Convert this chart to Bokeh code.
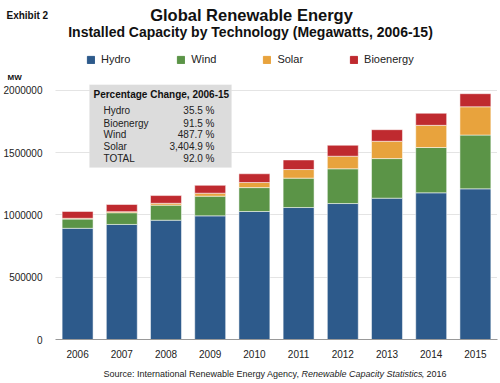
from bokeh.plotting import figure
from bokeh.layouts import column
from bokeh.models import (FactorRange, Range1d, FixedTicker, NumeralTickFormatter,
                          Label, BoxAnnotation, Legend, LegendItem)
from bokeh.embed import file_html
from bokeh.resources import INLINE

years = ["2006", "2007", "2008", "2009", "2010", "2011", "2012", "2013", "2014", "2015"]
hydro = [893000, 924000, 958000, 993000, 1028000, 1060000, 1092000, 1135000, 1178000, 1210000]
wind = [74000, 94000, 121000, 158000, 192000, 236000, 279000, 318000, 364000, 432000]
solar = [6500, 9000, 15000, 24000, 41000, 69000, 101000, 139000, 178000, 227000]
bio = [55000, 57000, 62000, 63000, 70000, 77000, 88000, 93000, 97000, 105000]
series_names = ["Hydro", "Wind", "Solar", "Bioenergy"]
colors = ["#2d5a8b", "#5b9447", "#e8a33d", "#bf2a2f"]
y_ticks = [0, 500000, 1000000, 1500000, 2000000]

pct_labels = ["Hydro", "Bioenergy", "Wind", "Solar", "TOTAL"]
pct_values = ["35.5 %", "91.5 %", "487.7 %", "3,404.9 %", "92.0 %"]

FONT = "Liberation Sans"
W = 500
HEAD_H = 84
FOOT_H = 22
FRAME_H = 255
LEFT, RIGHT, BOTTOM = 53, 3, 22
MAIN_H = FRAME_H + BOTTOM

data = dict(years=years, Hydro=hydro, Wind=wind, Solar=solar, Bioenergy=bio)


def label(fig, text, x, y, size, style="normal", align="left", color="#111111"):
    fig.add_layout(Label(x=x, y=y, x_units="screen", y_units="screen", text=text,
                         text_font=FONT, text_font_size=size, text_font_style=style,
                         text_align=align, text_baseline="middle", text_color=color))


def blank(height, x_range=None, y_range=None):
    f = figure(width=W, height=height, output_backend="svg", toolbar_location=None,
               x_range=x_range if x_range is not None else Range1d(0, W),
               y_range=y_range if y_range is not None else Range1d(0, height),
               x_axis_location=None, y_axis_location=None, frame_align=False,
               min_border_left=0, min_border_right=0, min_border_top=0, min_border_bottom=0)
    f.outline_line_color = None
    f.xgrid.grid_line_color = None
    f.ygrid.grid_line_color = None
    return f


# ---------- header: titles + legend (screen px from bottom-left) ----------
head = blank(HEAD_H, x_range=FactorRange(*years, range_padding=0), y_range=Range1d(-4e6, -3e6))
label(head, "Exhibit 2", 6, HEAD_H - 15, "10px", style="bold")
label(head, "Global Renewable Energy", 251, HEAD_H - 14, "16.5px", style="bold", align="center")
label(head, "Installed Capacity by Technology (Megawatts, 2006-15)", 250, HEAD_H - 31, "14px",
      style="bold", align="center")
label(head, "MW", 7, HEAD_H - 77, "8px", style="bold")
# same stacked bars, not drawn here: they only feed the legend's swatches
hidden = head.vbar_stack(series_names, x="years", width=0.7, source=data, color=colors)
for r in hidden:
    r.visible = False
legend = Legend(items=[LegendItem(label=n, renderers=[r]) for n, r in zip(series_names, hidden)],
                orientation="horizontal", location=(86, 19), click_policy="none",
                spacing=46, glyph_width=9, glyph_height=9, label_standoff=6,
                label_height=12, padding=0, margin=0, border_line_color=None,
                background_fill_alpha=0, label_text_font=FONT, label_text_font_size="11px",
                label_text_color="#222222")
head.add_layout(legend, "center")

# ---------- main chart ----------
p = figure(width=W, height=MAIN_H, output_backend="svg", toolbar_location=None,
           x_range=FactorRange(*years, range_padding=0),
           y_range=Range1d(0, 2048000), frame_align=False,
           min_border_left=LEFT, min_border_right=RIGHT,
           min_border_top=0, min_border_bottom=BOTTOM)
p.outline_line_color = None
p.vbar_stack(series_names, x="years", width=0.7, source=data,
             color=colors, line_color="white", line_alpha=0.5, line_width=1)

p.xgrid.grid_line_color = None
p.ygrid.grid_line_color = "#c8c8c8"
p.ygrid.grid_line_dash = "1 1"
p.ygrid.ticker = FixedTicker(ticks=y_ticks)
p.yaxis.ticker = FixedTicker(ticks=y_ticks)
p.yaxis.formatter = NumeralTickFormatter(format="0")
p.yaxis.axis_line_color = None
p.yaxis.major_tick_line_color = None
p.yaxis.minor_tick_line_color = None
p.yaxis.major_label_text_font = FONT
p.yaxis.major_label_text_font_size = "10px"
p.yaxis.major_label_text_color = "#222222"
p.yaxis.major_label_standoff = 7
p.xaxis.axis_line_color = "#999999"
p.xaxis.major_tick_line_color = None
p.xaxis.minor_tick_line_color = None
p.xaxis.major_label_text_font = FONT
p.xaxis.major_label_text_font_size = "10px"
p.xaxis.major_label_text_color = "#222222"
p.xaxis.major_label_standoff = 4

box = BoxAnnotation(left=34, right=176, top=FRAME_H, bottom=172,
                    left_units="screen", right_units="screen",
                    top_units="screen", bottom_units="screen",
                    fill_color="#dcdcdc", fill_alpha=1, line_color="#e8e8e8", line_width=1,
                    level="annotation")
p.add_layout(box)
label(p, "Percentage Change, 2006-15", 38, 245, "10px", style="bold")
row_y = [228.7, 216.3, 204.7, 193, 180.7]
for lab, val, yy in zip(pct_labels, pct_values, row_y):
    label(p, lab, 48, yy, "10px", color="#222222")
    label(p, val, 159, yy, "10px", align="right", color="#222222")

# ---------- footer: source ----------
foot = blank(FOOT_H)
label(foot, "Source: International Renewable Energy Agency, ", 103, 10, "9px", color="#222222")
label(foot, "Renewable Capacity Statistics", 301, 10, "9px", style="italic", color="#222222")
label(foot, ", 2016", 421, 10, "9px", color="#222222")

layout = column(head, p, foot, spacing=0)
open("out.html", "w").write(file_html(layout, INLINE))
